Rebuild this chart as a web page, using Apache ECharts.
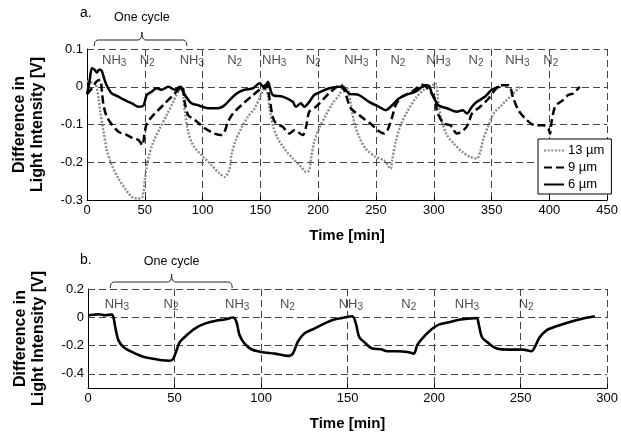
<!DOCTYPE html>
<html>
<head>
<meta charset="utf-8">
<script src="https://cdn.jsdelivr.net/npm/echarts@6/dist/echarts.min.js"></script>
<style>
  html, body { margin: 0; padding: 0; background: #fff; }
  #chart { width: 621px; height: 434px; }
</style>
</head>
<body>
<div id="chart"></div>
<script>
// Panel a: response of three film thicknesses, [time (min), signal (V)]
const film13um = [[0,0.015],[3,0.012],[7.2,0.009],[10,-0.031],[11.5,-0.066],[14.3,-0.119],[17.2,-0.168],[21.5,-0.208],[27.2,-0.243],[33,-0.27],[38.8,-0.292],[44.4,-0.296],[47.9,-0.292],[50.2,-0.243],[53,-0.19],[57.4,-0.146],[63.1,-0.11],[68.9,-0.075],[74.6,-0.04],[78.9,-0.013],[81.8,0],[84.7,-0.066],[87.5,-0.119],[91.8,-0.155],[99,-0.181],[107.7,-0.208],[114.8,-0.23],[119.1,-0.239],[123.4,-0.217],[124.9,-0.181],[129.2,-0.137],[133.5,-0.11],[139.2,-0.08],[145,-0.057],[149.3,-0.03],[153.6,-0.004],[156.4,-0.022],[157.9,-0.057],[160.7,-0.102],[165,-0.137],[170.8,-0.164],[178,-0.19],[185.2,-0.212],[189.5,-0.226],[192.3,-0.221],[193.8,-0.19],[196.6,-0.146],[200.9,-0.11],[206.7,-0.075],[212.4,-0.044],[218.2,-0.022],[222.5,0],[225.4,-0.004],[228.2,-0.044],[231.1,-0.093],[235.4,-0.133],[241.1,-0.164],[249.8,-0.186],[257,-0.195],[262.7,-0.217],[264,-0.195],[267,-0.146],[271.3,-0.102],[277,-0.066],[284.2,-0.031],[291.4,-0.008],[297.1,0],[301.5,0.009],[304.3,-0.049],[307.2,-0.093],[311.4,-0.128],[317.2,-0.15],[324.4,-0.172],[331.6,-0.186],[337.3,-0.19],[340.2,-0.172],[343,-0.137],[347.4,-0.102],[351.7,-0.071],[357.4,-0.053],[363.1,-0.035],[368.9,-0.018],[374.6,0]];

const film9um = [[0,-0.02],[4.3,-0.004],[8.6,0.015],[11.5,0.018],[12.9,-0.013],[14.3,-0.049],[17.2,-0.08],[21.5,-0.1],[27.2,-0.119],[34.5,-0.128],[40.1,-0.137],[44,-0.14],[45.9,-0.146],[47.9,-0.155],[49.6,-0.128],[51.7,-0.097],[56,-0.08],[60.3,-0.066],[67.4,-0.044],[74.6,-0.022],[80.4,-0.004],[82.5,0],[84.7,-0.044],[87.5,-0.075],[93.3,-0.088],[101.9,-0.11],[110.5,-0.124],[116.3,-0.128],[119,-0.119],[122,-0.093],[126.3,-0.071],[133.5,-0.049],[142.1,-0.026],[150.7,-0.004],[155,0.005],[157.9,-0.031],[160.7,-0.08],[163.6,-0.097],[169.3,-0.106],[175.1,-0.124],[179.4,-0.115],[186.6,-0.128],[189.5,-0.106],[192.3,-0.066],[198.1,-0.053],[203.8,-0.035],[211,-0.013],[219.6,0.005],[224,-0.022],[228.2,-0.057],[235.4,-0.075],[246.9,-0.102],[251.2,-0.115],[257,-0.124],[260,-0.115],[264,-0.08],[267,-0.049],[272.7,-0.026],[281.3,-0.013],[289.9,0.005],[295.7,-0.008],[301.5,-0.035],[302.8,-0.066],[308.6,-0.097],[314.4,-0.102],[320,-0.124],[325.8,-0.115],[330.1,-0.097],[333,-0.071],[340.2,-0.053],[347.4,-0.031],[353.1,-0.008],[357.4,0.004],[364.6,0.004],[368.9,-0.031],[373.2,-0.062],[380.4,-0.088],[387.6,-0.102],[394.7,-0.102],[399,-0.11],[400.5,-0.124],[401.9,-0.093],[404.8,-0.053],[407.7,-0.044],[412,-0.035],[416.3,-0.022],[420.6,-0.018],[426.3,0]];

const film6um = [[0,-0.02],[2,0.01],[4.3,0.049],[6.5,0.045],[8.6,0.038],[10.5,0.045],[12.3,0.044],[15.8,0.013],[18.5,-0.005],[21.5,-0.018],[27.2,-0.026],[31,-0.033],[35.8,-0.04],[40,-0.046],[44.4,-0.053],[48.8,-0.05],[51.7,-0.022],[56,-0.013],[60.3,-0.004],[64.6,-0.008],[70.3,0],[76,-0.008],[80.4,0],[84.7,-0.022],[90.4,-0.044],[96.2,-0.049],[104.8,-0.057],[113.4,-0.057],[119,-0.049],[126.3,-0.026],[131,-0.015],[136.3,-0.008],[143.5,-0.004],[149.3,0.009],[153.6,-0.004],[156.4,0.013],[160.7,-0.022],[169.3,-0.026],[178,-0.04],[180.7,-0.053],[185,-0.044],[188,-0.053],[192.3,-0.04],[196.6,-0.022],[202.4,-0.013],[209.6,-0.004],[218.2,0],[222.5,-0.004],[226.8,-0.018],[235.4,-0.022],[244,-0.04],[252.6,-0.053],[258.4,-0.062],[264,-0.049],[269.8,-0.031],[275.6,-0.022],[284.2,-0.013],[292.8,0.004],[296,0.002],[298.5,-0.02],[302,-0.04],[304.3,-0.05],[311.4,-0.057],[320,-0.066],[325,-0.062],[328.7,-0.071],[333,-0.053],[337.3,-0.04],[344.5,-0.026],[350.2,-0.008],[357,0]];

// Panel b: single film over three and a half cycles
const cycleRun = [[0,0.014],[3,0.018],[6.1,0.021],[9.9,0.014],[13.8,0.02],[14.7,0],[16.1,-0.092],[17.6,-0.163],[20.5,-0.21],[25.3,-0.245],[31.1,-0.276],[36.8,-0.292],[42.6,-0.304],[47.4,-0.307],[49.3,-0.292],[51.2,-0.233],[53.1,-0.174],[57,-0.127],[61.7,-0.08],[67.5,-0.045],[75.1,-0.021],[78.9,-0.016],[83.8,-0.002],[85.7,-0.03],[87.6,-0.127],[90.5,-0.186],[94.4,-0.226],[100.1,-0.245],[107.8,-0.257],[115.4,-0.273],[118.3,-0.257],[121.2,-0.174],[125,-0.115],[130.8,-0.08],[136.5,-0.045],[142.3,-0.016],[148,-0.002],[152.8,0.007],[154.8,-0.045],[156.7,-0.139],[159.5,-0.174],[164.3,-0.221],[169.2,-0.226],[173,-0.24],[178.7,-0.24],[184.5,-0.245],[188.3,-0.257],[190.2,-0.198],[193.1,-0.151],[197.9,-0.092],[202.7,-0.052],[209.4,-0.033],[215.2,-0.016],[220.9,-0.009],[224.7,-0.005],[225.7,-0.045],[227.6,-0.139],[230.5,-0.174],[236.2,-0.221],[243.9,-0.229],[251.5,-0.229],[256.3,-0.24],[258.2,-0.21],[261.1,-0.139],[265,-0.092],[270.7,-0.064],[278.4,-0.033],[286.1,-0.009],[292.9,0.007]];

// Gas switching labels (gas, time in min)
const gasNamesA = ['NH3','N2','NH3','N2','NH3','N2','NH3','N2','NH3','N2','NH3','N2'];
const gasTimesA = [23.5,52,90.7,127.7,162,195.7,233,269,304,336.6,372.3,401.2];
const gasNamesB = ['NH3','N2','NH3','N2','NH3','N2','NH3','N2'];
const gasTimesB = [16.7,48,86.2,115.2,151.9,185.4,219,253.2];

// Brace spans marking one cycle: [start, middle, end] in min
const cycleSpanA = [6.3, 47.5, 86.4];
const cycleSpanB = [12.9, 48.3, 83.3];

// Horizontal grid values of panel b
const gridValuesB = [0.2, 0, -0.2, -0.4];

const FONT = '"Liberation Sans", Arial, sans-serif';
const GRID_DASH = [7, 4];
const GRID_COLOR = '#444';

const chart = echarts.init(document.getElementById('chart'), null, { renderer: 'canvas' });

function fmt(v) {
  const r = Math.round(v * 10) / 10;
  return r === 0 ? '0' : String(r);
}

function gasSeries(names, times, y, xi) {
  return {
    type: 'scatter',
    xAxisIndex: xi, yAxisIndex: xi,
    symbolSize: 0,
    silent: true,
    z: 1,
    data: times.map((t, i) => ({
      value: [t, y],
      label: {
        show: true,
        position: 'inside',
        formatter: names[i] === 'NH3' ? '{m|NH}{s|3}' : '{m|N}{s|2}',
        rich: {
          m: { fontFamily: FONT, fontSize: 13, color: '#222' },
          s: { fontFamily: FONT, fontSize: 10, color: '#222', padding: [5, 0, 0, 0] }
        }
      }
    }))
  };
}

const axisText = { fontFamily: FONT, fontSize: 13, color: '#000' };
const nameText = { fontFamily: FONT, fontSize: 15, fontWeight: 'bold', color: '#000' };
const yNameText = { fontFamily: FONT, fontSize: 16, fontWeight: 'bold', color: '#000', lineHeight: 18 };

function xAxisCfg(gi, max) {
  return {
    type: 'value', gridIndex: gi, min: 0, max: max, interval: 50,
    name: 'Time [min]', nameLocation: 'middle', nameGap: 28, nameTextStyle: nameText,
    axisLine: { show: true, onZero: false, lineStyle: { color: '#000', width: 1 } },
    axisTick: { show: true, inside: true, length: 4, lineStyle: { color: '#000' } },
    axisLabel: { ...axisText, margin: 4 },
    splitLine: { show: true, lineStyle: { color: GRID_COLOR, type: GRID_DASH, width: 1 } }
  };
}

const option = {
  backgroundColor: '#fff',
  animation: false,
  grid: [
    { left: 87, top: 49, width: 523, height: 151 },
    { left: 88, top: 289, width: 521, height: 99 }
  ],
  xAxis: [xAxisCfg(0, 450), xAxisCfg(1, 300)],
  yAxis: [
    {
      type: 'value', gridIndex: 0, min: -0.3, max: 0.1, interval: 0.1,
      name: 'Difference in\nLight Intensity [V]', nameLocation: 'middle', nameGap: 40,
      nameTextStyle: yNameText,
      axisLine: { show: true, onZero: false, lineStyle: { color: '#000', width: 1 } },
      axisTick: { show: false },
      axisLabel: { ...axisText, margin: 4, formatter: fmt },
      splitLine: { show: true, lineStyle: { color: GRID_COLOR, type: GRID_DASH, width: 1 } }
    },
    {
      type: 'value', gridIndex: 1, min: -0.5, max: 0.2, interval: 0.1,
      name: 'Difference in\nLight Intensity [V]', nameLocation: 'middle', nameGap: 40,
      nameTextStyle: yNameText,
      axisLine: { show: true, onZero: false, lineStyle: { color: '#000', width: 1 } },
      axisTick: { show: false },
      axisLabel: {
        ...axisText, margin: 4,
        formatter: v => {
          const r = Math.round(v * 10);
          return (r % 2 === 0) ? fmt(v) : '';
        }
      },
      splitLine: { show: false }
    }
  ],
  legend: {
    orient: 'vertical',
    left: 538, top: 139,
    data: ['13 µm', '9 µm', '6 µm'],
    backgroundColor: '#fff',
    borderColor: '#000', borderWidth: 1,
    padding: [5, 7, 3, 5],
    itemWidth: 20, itemHeight: 14, itemGap: 4,
    itemStyle: { opacity: 0 },
    textStyle: { fontFamily: FONT, fontSize: 13, color: '#000', padding: [0, 0, 0, -1] }
  },
  series: [
    {
      name: '13 µm', type: 'line', xAxisIndex: 0, yAxisIndex: 0,
      data: film13um, showSymbol: false, symbol: 'none', smooth: 0.3, z: 3,
      lineStyle: { color: '#8a8a8a', width: 2.4, type: [2, 1.6] },
      itemStyle: { color: '#8a8a8a' }
    },
    {
      name: '9 µm', type: 'line', xAxisIndex: 0, yAxisIndex: 0,
      data: film9um, showSymbol: false, symbol: 'none', smooth: 0.3, z: 4,
      lineStyle: { color: '#000', width: 2.5, type: [8, 4] },
      itemStyle: { color: '#000' }
    },
    {
      name: '6 µm', type: 'line', xAxisIndex: 0, yAxisIndex: 0,
      data: film6um, showSymbol: false, symbol: 'none', smooth: 0.3, z: 5,
      lineStyle: { color: '#000', width: 2.5, type: 'solid' },
      itemStyle: { color: '#000' }
    },
    {
      name: 'cycle', type: 'line', xAxisIndex: 1, yAxisIndex: 1,
      data: cycleRun, showSymbol: false, symbol: 'none', smooth: 0.3, z: 5,
      lineStyle: { color: '#000', width: 2.6 },
      itemStyle: { color: '#000' },
      markLine: {
        silent: true, symbol: 'none', z: 1,
        label: { show: false },
        lineStyle: { color: GRID_COLOR, type: GRID_DASH, width: 1 },
        data: gridValuesB.map(v => ({ yAxis: v }))
      }
    },
    gasSeries(gasNamesA, gasTimesA, 0.07, 0),
    gasSeries(gasNamesB, gasTimesB, 0.092, 1)
  ]
};

chart.setOption(option);

// Curly brace over one cycle, sampled as a polyline
function quad(p0, p1, p2, n) {
  const pts = [];
  for (let i = 0; i <= n; i++) {
    const t = i / n, u = 1 - t;
    pts.push([u * u * p0[0] + 2 * u * t * p1[0] + t * t * p2[0],
              u * u * p0[1] + 2 * u * t * p1[1] + t * t * p2[1]]);
  }
  return pts;
}
function bracePoints(xs, y, hEnd, hTip) {
  const [a, m, b] = xs;
  const r = 4;
  return [].concat(
    quad([a, y + hEnd], [a, y], [a + r, y], 6),
    quad([m - r, y], [m, y], [m, y - hTip], 6),
    quad([m, y - hTip], [m, y], [m + r, y], 6),
    quad([b - r, y], [b, y], [b, y + hEnd], 6)
  );
}
function toPx(gi, t) {
  return chart.convertToPixel({ gridIndex: gi }, [t, 0])[0];
}
const spanA = cycleSpanA.map(t => toPx(0, t));
const spanB = cycleSpanB.map(t => toPx(1, t));

chart.setOption({
  graphic: [
    { type: 'text', x: 80, y: 6, style: { text: 'a.', font: `14px ${FONT}`, fill: '#000' } },
    { type: 'text', x: spanA[1], y: 18, style: { text: 'One cycle', font: `12.5px ${FONT}`, fill: '#000', align: 'center', verticalAlign: 'middle' } },
    { type: 'polyline', shape: { points: bracePoints(spanA, 40, 6, 8) }, style: { stroke: '#222', fill: null, lineWidth: 1 } },
    { type: 'text', x: 80, y: 253, style: { text: 'b.', font: `14px ${FONT}`, fill: '#000' } },
    { type: 'text', x: spanB[1], y: 262, style: { text: 'One cycle', font: `12.5px ${FONT}`, fill: '#000', align: 'center', verticalAlign: 'middle' } },
    { type: 'polyline', shape: { points: bracePoints(spanB, 282, 6, 8) }, style: { stroke: '#222', fill: null, lineWidth: 1 } }
  ]
});
</script>
</body>
</html>
